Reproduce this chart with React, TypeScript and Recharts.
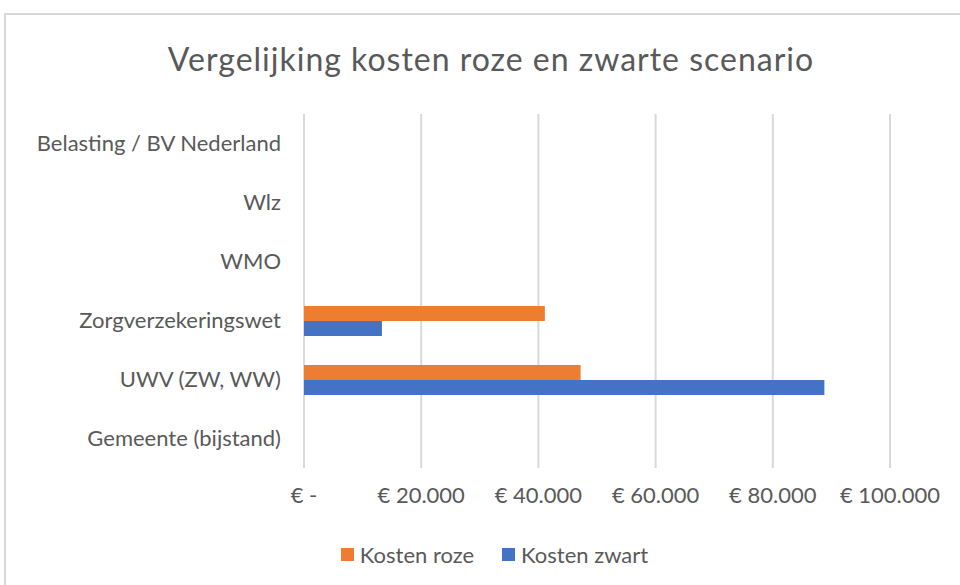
import React from 'react';
import { BarChart, Bar, XAxis, YAxis, CartesianGrid, Legend } from 'recharts';

const categories = [
  'Belasting / BV Nederland',
  'Wlz',
  'WMO',
  'Zorgverzekeringswet',
  'UWV (ZW, WW)',
  'Gemeente (bijstand)',
];
const kostenRoze = [0, 0, 0, 41100, 47200, 0];
const kostenZwart = [0, 0, 0, 13300, 88800, 0];
const xTicks = [0, 20000, 40000, 60000, 80000, 100000];

const data = categories.map((name, i) => ({
  name,
  roze: kostenRoze[i],
  zwart: kostenZwart[i],
}));

const FONT = 'Lato, "Noto Sans", sans-serif';
const TEXT = '#595959';

const formatEuro = (v: number) =>
  v === 0 ? '€ -' : '€ ' + String(v).replace(/\B(?=(\d{3})+(?!\d))/g, '.');

const LegendContent = () => (
  <div style={{ display: 'flex', justifyContent: 'center', alignItems: 'center', height: 50, fontFamily: FONT, fontSize: 22, color: TEXT, paddingLeft: 29 }}>
    <span style={{ width: 13, height: 13, background: '#ED7D31', display: 'inline-block', marginRight: 6 }} />
    <span style={{ marginRight: 28 }}>Kosten roze</span>
    <span style={{ width: 13, height: 13, background: '#4472C4', display: 'inline-block', marginRight: 6 }} />
    <span>Kosten zwart</span>
  </div>
);

const App: React.FC = () => {
  return (
    <div style={{ position: 'relative', width: 960, height: 585, overflow: 'hidden', background: '#fff' }}>
      <style>{'body{margin:0}'}</style>
      <div style={{ position: 'absolute', left: 4, top: 13, width: 1000, height: 620, border: '2px solid #d9d9d9', boxSizing: 'border-box' }} />
      <div style={{ position: 'absolute', left: 0, top: 39, width: 982, textAlign: 'center', fontFamily: FONT, fontSize: 32, letterSpacing: 1, color: TEXT }}>
        Vergelijking kosten roze en zwarte scenario
      </div>
      <div style={{ position: 'absolute', left: 0, top: 0 }}>
        <BarChart
          width={960}
          height={585}
          data={data}
          layout="vertical"
          margin={{ top: 114, right: 70, bottom: 6, left: 0 }}
          barSize={15}
          barGap={0}
        >
          <CartesianGrid horizontal={false} stroke="#d9d9d9" strokeWidth={2} />
          <XAxis
            type="number"
            domain={[0, 100000]}
            ticks={xTicks}
            tickFormatter={formatEuro}
            axisLine={false}
            tickLine={false}
            tickMargin={13}
            height={61}
            tick={{ fill: TEXT, fontFamily: FONT, fontSize: 22 }}
            interval={0}
          />
          <YAxis
            type="category"
            dataKey="name"
            width={304}
            axisLine={false}
            tickLine={false}
            tickMargin={17}
            tick={{ fill: TEXT, fontFamily: FONT, fontSize: 22 }}
            interval={0}
          />
          <Legend
            verticalAlign="bottom"
            height={50}
            wrapperStyle={{ left: 0, width: 960 }}
            content={<LegendContent />}
          />
          <Bar dataKey="roze" name="Kosten roze" fill="#ED7D31" isAnimationActive={false} />
          <Bar dataKey="zwart" name="Kosten zwart" fill="#4472C4" isAnimationActive={false} />
        </BarChart>
      </div>
    </div>
  );
};

export default App;
